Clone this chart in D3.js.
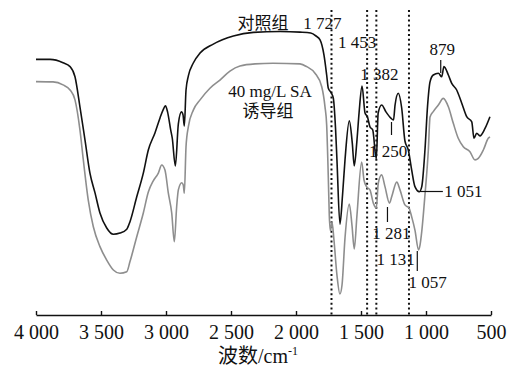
<!DOCTYPE html>
<html>
<head>
<meta charset="utf-8">
<script src="https://cdn.jsdelivr.net/npm/d3@7"></script>
<style>
    body { margin: 0; background: #fff; }
    svg text { font-family: "Liberation Serif", "Noto Sans CJK SC", serif; fill: #111; }
</style>
</head>
<body>
<svg></svg>
<script>
// control group (black)
const controlWn = [4000,3892,3792,3738,3700,3662,3623,3585,3546,3508,3456,3405,3354,3302,3277,3225,3175,3136,3085,3046,3023,3004,2988,2964,2952,2928,2905,2881,2869,2859,2846,2828,2790,2738,2636,2482,2328,2123,1969,1887,1846,1815,1785,1764,1752,1727,1713,1696,1685,1662,1642,1623,1590,1567,1552,1531,1515,1492,1469,1450,1431,1410,1382,1368,1341,1308,1272,1250,1238,1213,1187,1162,1136,1110,1085,1051,1033,1008,988,969,944,905,879,862,828,802,764,725,687,648,631,610,585,546,508];
const controlT = [85.2,85.2,84.1,82.8,79.4,69.4,58.3,47.3,40.7,34,29,26.9,27.3,28.6,31.1,39.4,47.2,55,60.7,65.7,68.3,69.7,67.7,61.7,59,49.7,63.7,67.7,66.7,63,75,79.7,84,87.3,90.3,93,94.2,94.5,94.3,94,93,91.7,86.7,80,75.7,73.9,72.3,62.3,51.7,30.3,40,51.7,64.7,57.3,49.7,58.3,67.3,76.3,67.3,66,62.7,61.7,52,67.3,70,67.7,65.7,65,70,73.9,69,58,55,48.3,42.8,41.1,42.7,55,69.7,77.7,80,80.6,79.4,82.8,80,77.2,75,70.6,66.1,64.4,58.9,60.6,59.7,62.2,66.1];

// 40 mg/L SA induced group (gray)
const saWn = [4000,3869,3792,3738,3700,3662,3636,3598,3559,3508,3456,3405,3354,3302,3277,3225,3175,3136,3098,3059,3033,3008,2982,2956,2936,2918,2905,2879,2867,2859,2846,2828,2790,2738,2662,2585,2508,2431,2315,2177,1969,1918,1854,1802,1777,1764,1752,1744,1735,1723,1708,1685,1662,1646,1623,1590,1569,1552,1531,1495,1477,1456,1431,1405,1382,1367,1341,1315,1281,1264,1225,1200,1162,1131,1110,1085,1057,1046,1033,1008,982,969,944,905,867,828,790,752,713,662,623,598,559,521,508];
const saT = [77.8,77.7,76.7,75,71.7,61.7,51.7,38.3,29.4,22.8,18.3,15,13.9,14.4,17.8,26.1,33.9,41,44.7,47.3,50,48.3,40.6,34,24.4,36.1,41.7,44.1,43.3,40.6,56.1,62.8,68.3,71.7,75.6,78.3,81.3,83,83.7,83.9,83.7,82.8,80.6,76.1,69.4,63.3,46.7,33.3,28,31,25,13.3,7,10,25.7,37,29.7,22,33.3,51,45,42.7,41.7,37.3,35.7,44,46.7,42.7,37.3,39.4,44.3,41.7,36.7,35.7,32.7,28.3,21.7,23.3,27.7,40,55,66,67.8,70,72.2,69.4,63.9,58.9,56.1,54.4,51.7,52.2,55,58.9,59.4];

const tickValues = [4000,3500,3000,2500,2000,1500,1000,500];
const dottedWn = [1727,1453,1382,1131];
const peakWn = [1727,1453,1382,879,1250,1051,1281,1131,1057];
const peakLabels = ["1 727","1 453","1 382","879","1 250","1 051","1 281","1 131","1 057"];
const seriesNames = ["对照组", "40 mg/L SA", "诱导组"];
const axisTitle = "波数/cm";

const width = 508, height = 367;
const svg = d3.select("svg").attr("width", width).attr("height", height);

const x = d3.scaleLinear().domain([4000, 500]).range([36, 491]);
const y = d3.scaleLinear().domain([0, 100]).range([315, 15]);

// dotted reference lines
svg.append("g")
    .selectAll("line")
    .data(dottedWn)
    .join("line")
    .attr("x1", (d) => x(d)).attr("x2", (d) => x(d))
    .attr("y1", 10).attr("y2", y(0))
    .attr("stroke", "#111")
    .attr("stroke-width", 2)
    .attr("stroke-dasharray", "2,2.8");

// spectra
const line = d3.line()
    .x((d) => x(d[0]))
    .y((d) => y(d[1]))
    .curve(d3.curveMonotoneX);

svg.append("path")
    .datum(saWn.map((w, i) => [w, saT[i]]))
    .attr("d", line)
    .attr("fill", "none")
    .attr("stroke", "#8e8e8e")
    .attr("stroke-width", 1.6);

svg.append("path")
    .datum(controlWn.map((w, i) => [w, controlT[i]]))
    .attr("d", line)
    .attr("fill", "none")
    .attr("stroke", "#111")
    .attr("stroke-width", 1.6);

// x axis
const locale = d3.formatLocale({ decimal: ".", thousands: " ", grouping: [3], currency: ["", ""] });
const xAxis = svg.append("g")
    .attr("transform", `translate(0, ${y(0)})`)
    .call(d3.axisBottom(x)
        .tickValues(tickValues)
        .tickFormat(locale.format(","))
        .tickSizeInner(-4)
        .tickSizeOuter(0)
        .tickPadding(10));
xAxis.select(".domain").attr("stroke", "#111").attr("stroke-width", 1.4);
xAxis.selectAll(".tick line").attr("stroke", "#111").attr("stroke-width", 1.4);
xAxis.selectAll(".tick text")
    .attr("font-size", 20)
    .attr("font-family", "Liberation Serif")
    .attr("fill", "#111");

const title = svg.append("text")
    .attr("x", 258)
    .attr("y", 363)
    .attr("text-anchor", "middle")
    .attr("font-size", 20);
title.append("tspan").text(axisTitle);
title.append("tspan").attr("dy", -8).attr("font-size", 12).text("-1");

// series labels
svg.append("text").attr("x", 263).attr("y", 29).attr("text-anchor", "middle")
    .attr("font-size", 17).text(seriesNames[0]);
svg.append("text").attr("x", 270).attr("y", 97).attr("text-anchor", "middle")
    .attr("font-size", 17).text(seriesNames[1]);
svg.append("text").attr("x", 268).attr("y", 117).attr("text-anchor", "middle")
    .attr("font-size", 17).text(seriesNames[2]);

// peak annotations: label offset from x(wn), baseline, optional leader
const labelLayout = [
    { dx: -9, y: 29 },
    { dx: -10, y: 48 },
    { dx: 3, y: 80 },
    { dx: 0.6, y: 55, lead: { dx: -1, y1: 60, y2: 73 } },
    { dx: -5.5, y: 157, lead: { dx: -2, y1: 122, y2: 135 } },
    { dx: 25, y: 197, anchor: "start", hlead: { x1: -1.5, x2: 23.5, y: 191.5 } },
    { dx: 2, y: 239, lead: { dx: -2, y1: 207, y2: 222 } },
    { dx: -13.3, y: 265 },
    { dx: 9, y: 288, lead: { dx: -1.3, y1: 251, y2: 271 } },
];

const annot = svg.append("g");
peakWn.forEach((w, i) => {
    const l = labelLayout[i];
    annot.append("text")
        .attr("x", x(w) + l.dx)
        .attr("y", l.y)
        .attr("text-anchor", l.anchor || "middle")
        .attr("font-size", 17)
        .text(peakLabels[i]);
    if (l.lead) {
        annot.append("line")
            .attr("x1", x(w) + l.lead.dx).attr("x2", x(w) + l.lead.dx)
            .attr("y1", l.lead.y1).attr("y2", l.lead.y2)
            .attr("stroke", "#111").attr("stroke-width", 1.2);
    }
    if (l.hlead) {
        annot.append("line")
            .attr("x1", x(w) + l.hlead.x1).attr("x2", x(w) + l.hlead.x2)
            .attr("y1", l.hlead.y).attr("y2", l.hlead.y)
            .attr("stroke", "#111").attr("stroke-width", 1.2);
    }
});
</script>
</body>
</html>
